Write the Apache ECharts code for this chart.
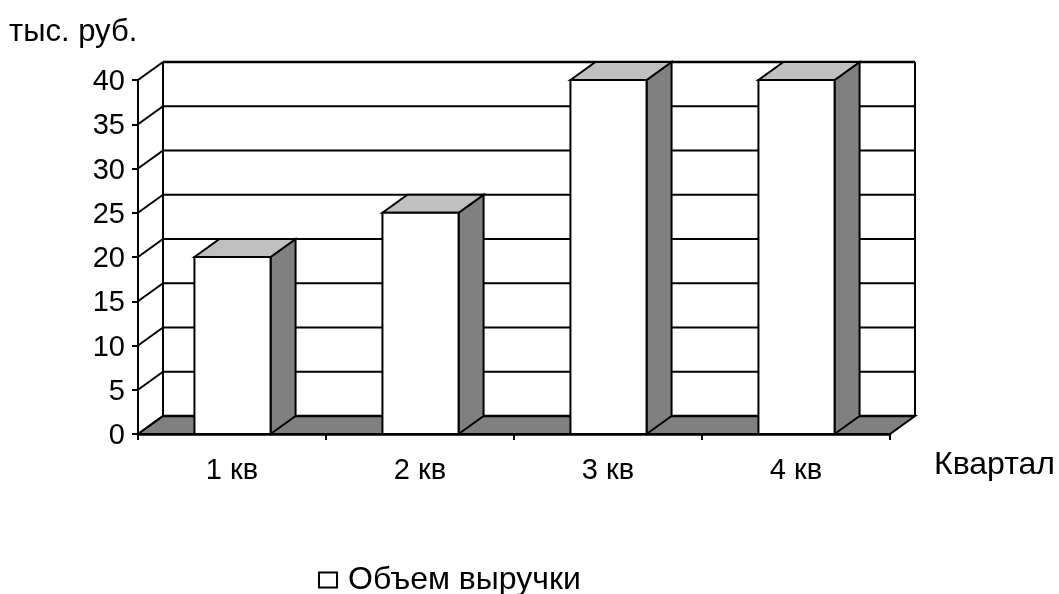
<!DOCTYPE html>
<html><head><meta charset="utf-8">
<script src="https://cdn.jsdelivr.net/npm/echarts@6/dist/echarts.min.js"></script>
<style>html,body{margin:0;padding:0;background:#fff}#c{width:1059px;height:594px}</style>
</head><body><div id="c"></div>
<script>
var categories = ['1 кв', '2 кв', '3 кв', '4 кв'];
var revenue = [20, 25, 40, 40];
var yTicks = [0, 5, 10, 15, 20, 25, 30, 35, 40];
var seriesName = 'Объем выручки';
var yUnit = 'тыс. руб.';
var xName = 'Квартал';

var FONT = '"Liberation Sans", Arial, sans-serif';
var DX = 25, DY = -18, LW = 2;

function poly(pts, fill) {
  return {type: 'polygon', shape: {points: pts},
    style: {fill: fill, stroke: '#000', lineWidth: LW}};
}
function line(x1, y1, x2, y2, lw) {
  return {type: 'line', shape: {x1: x1, y1: y1, x2: x2, y2: y2},
    style: {stroke: '#000', lineWidth: lw || LW, fill: null}};
}
function renderWall(params, api) {
  var v = api.value(0);
  var cs = params.coordSys;
  var y = api.coord([0, v])[1];
  var x0 = cs.x, x1 = cs.x + cs.width;
  var kids = [];
  if (v === 0) {
    kids.push(poly([[x0, y], [x0 + DX, y + DY], [x1 + DX, y + DY], [x1, y]], '#808080'));
    var top = api.coord([0, yTicks[yTicks.length - 1]])[1] + DY;
    kids.push(line(x0 + DX, y + DY, x0 + DX, top));
    kids.push(line(x1 + DX, y + DY, x1 + DX, top));
  }
  var isEdge = v === 0 || v === yTicks[yTicks.length - 1];
  kids.push(line(x0 + DX, y + DY, x1 + DX, y + DY, isEdge ? 2.5 : LW));
  kids.push(line(x0, y, x0 + DX, y + DY));
  return {type: 'group', children: kids};
}
function renderBar(params, api) {
  var p = api.coord([api.value(0), api.value(1)]);
  var base = api.coord([api.value(0), 0]);
  var w = api.size([1, 0])[0] * 0.405;
  var l = p[0] - w / 2 + 0.5, r = p[0] + w / 2 + 0.5, t = p[1], b = base[1];
  return {type: 'group', children: [
    poly([[r, b], [r + DX, b + DY], [r + DX, t + DY], [r, t]], '#808080'),
    poly([[l, t], [l + DX, t + DY], [r + DX, t + DY], [r, t]], '#c0c0c0'),
    poly([[l, t], [r, t], [r, b], [l, b]], '#ffffff')
  ]};
}

var chart = echarts.init(document.getElementById('c'), null, {renderer: 'canvas'});
chart.setOption({
  animation: false,
  backgroundColor: '#fff',
  grid: {left: 138, top: 80, width: 752, height: 354},
  legend: {
    data: [seriesName], left: 318, top: 564, itemWidth: 18, itemHeight: 15, itemGap: 9,
    padding: 0, icon: 'rect', selectedMode: false,
    textStyle: {fontFamily: FONT, fontSize: 32, color: '#000', padding: [0, 0, 0, 6]},
    itemStyle: {color: '#fff', borderColor: '#000', borderWidth: 2}
  },
  graphic: [
    {type: 'text', left: 9, top: 17, style: {text: yUnit, font: '31px ' + FONT, fill: '#000'}},
    {type: 'text', left: 934, top: 449, style: {text: xName, font: '32px ' + FONT, fill: '#000'}}
  ],
  xAxis: {
    type: 'category', data: categories, boundaryGap: true,
    axisLine: {show: true, lineStyle: {color: '#000', width: 2.5}},
    axisTick: {show: true, length: 6, alignWithLabel: false, lineStyle: {color: '#000', width: 2}},
    axisLabel: {fontFamily: FONT, fontSize: 29, color: '#000', margin: 22},
    splitLine: {show: false}
  },
  yAxis: {
    type: 'value', min: 0, max: 40, interval: 5,
    axisLine: {show: true, lineStyle: {color: '#000', width: 2}},
    axisTick: {show: true, length: 6, lineStyle: {color: '#000', width: 2}},
    axisLabel: {fontFamily: FONT, fontSize: 29, color: '#000', margin: 13, verticalAlign: 'top', lineHeight: 4},
    splitLine: {show: false}
  },
  series: [
    {type: 'custom', name: 'wall', silent: true, clip: false, z: 1, renderItem: renderWall,
     encode: {y: 0}, data: yTicks.map(function (v) { return [v]; })},
    {type: 'custom', name: seriesName, clip: false, z: 2, renderItem: renderBar,
     itemStyle: {color: '#fff', borderColor: '#000', borderWidth: 2},
     encode: {x: 0, y: 1}, data: revenue.map(function (v, i) { return [i, v]; })}
  ]
});
</script></body></html>
